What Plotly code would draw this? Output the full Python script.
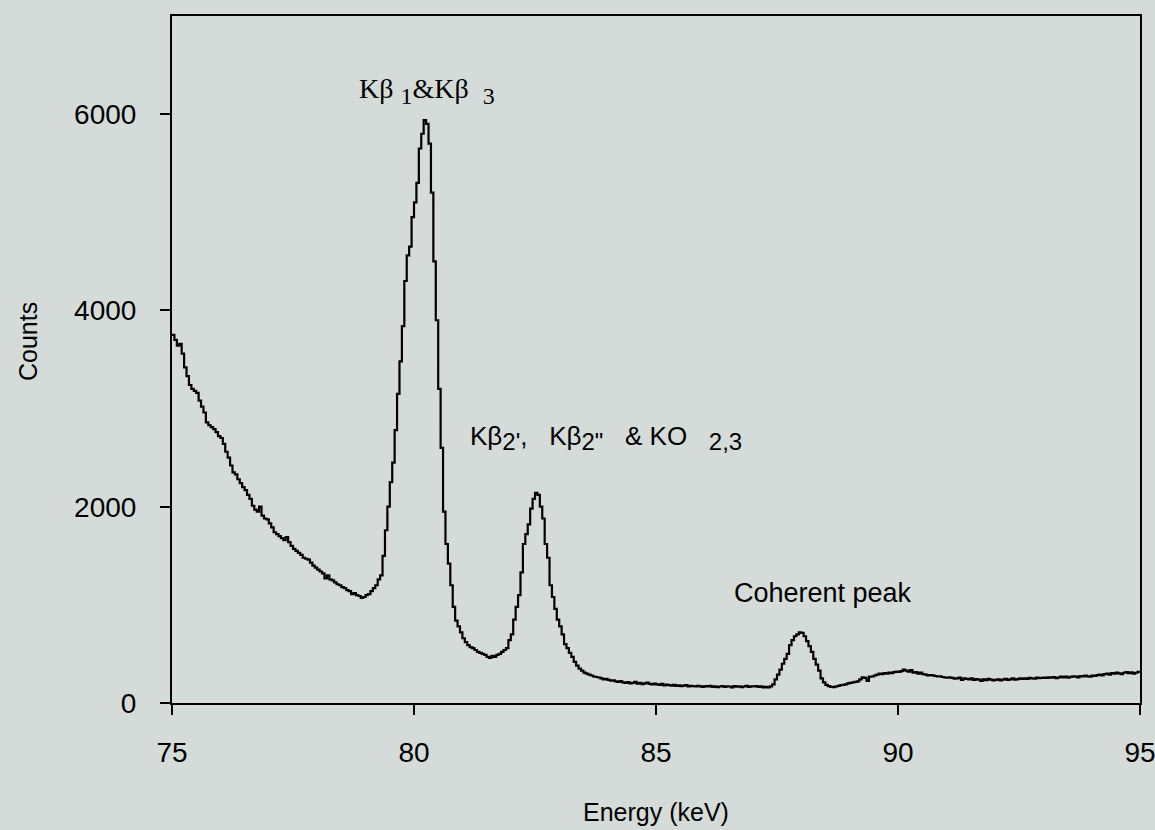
import numpy as np
import plotly.graph_objects as go

# Channel energies (keV), 0.05 keV channels from 75 to 95
energy_start = 75.0
energy_step = 0.05

counts_75 = [3750, 3700, 3640, 3660, 3560, 3420, 3330, 3240, 3200, 3180, 3160, 3080, 3020, 2960, 2860, 2830, 2810, 2790, 2760, 2720]
counts_76 = [2700, 2640, 2560, 2500, 2420, 2350, 2330, 2280, 2240, 2200, 2170, 2120, 2080, 2010, 1970, 1950, 2000, 1910, 1880, 1870]
counts_77 = [1830, 1790, 1740, 1720, 1700, 1680, 1660, 1690, 1640, 1600, 1570, 1550, 1530, 1510, 1480, 1470, 1460, 1430, 1400, 1380]
counts_78 = [1360, 1340, 1320, 1270, 1300, 1260, 1250, 1230, 1210, 1200, 1180, 1170, 1150, 1140, 1110, 1120, 1100, 1090, 1070, 1080]
counts_79 = [1100, 1110, 1140, 1170, 1200, 1260, 1300, 1500, 1760, 2000, 2250, 2450, 2780, 3150, 3480, 3840, 4300, 4560, 4650, 4950]
counts_80 = [5100, 5300, 5650, 5800, 5940, 5900, 5700, 5200, 4500, 3900, 3200, 2600, 1950, 1620, 1420, 1200, 980, 840, 780, 720]
counts_81 = [660, 620, 590, 570, 560, 540, 520, 510, 500, 490, 470, 460, 480, 470, 490, 500, 520, 540, 560, 640]
counts_82 = [700, 850, 980, 1100, 1330, 1620, 1720, 1820, 1980, 2080, 2140, 2120, 2000, 1880, 1620, 1480, 1200, 1080, 960, 850]
counts_83 = [780, 700, 600, 560, 510, 470, 420, 380, 350, 330, 310, 300, 290, 280, 270, 265, 260, 250, 240, 245]
counts_84 = [235, 228, 232, 220, 215, 222, 210, 205, 212, 200, 205, 215, 198, 205, 192, 200, 208, 195, 190, 198]
counts_85 = [190, 185, 195, 180, 188, 182, 178, 185, 175, 180, 172, 178, 183, 170, 176, 172, 168, 175, 170, 165]
counts_86 = [172, 168, 175, 165, 170, 162, 168, 172, 165, 170, 168, 160, 172, 166, 170, 162, 168, 175, 165, 170]
counts_87 = [168, 172, 165, 170, 160, 165, 158, 170, 190, 240, 290, 340, 400, 450, 500, 590, 640, 680, 700, 720]
counts_88 = [715, 680, 630, 580, 520, 450, 390, 330, 250, 210, 185, 172, 165, 162, 168, 175, 182, 185, 190, 200]
counts_89 = [205, 210, 215, 220, 240, 262, 255, 225, 268, 270, 280, 290, 300, 295, 305, 300, 310, 305, 315, 320]
counts_90 = [318, 325, 340, 330, 320, 335, 310, 315, 300, 310, 295, 290, 280, 285, 282, 275, 270, 272, 265, 260]
counts_91 = [258, 262, 255, 248, 250, 260, 235, 252, 245, 240, 250, 236, 244, 238, 225, 240, 232, 245, 238, 230]
counts_92 = [236, 242, 230, 238, 245, 235, 240, 250, 238, 244, 250, 246, 252, 245, 255, 250, 248, 258, 252, 256]
counts_93 = [260, 255, 262, 258, 265, 252, 260, 268, 262, 270, 258, 266, 272, 268, 262, 275, 270, 278, 272, 268]
counts_94 = [280, 276, 285, 290, 282, 295, 300, 290, 305, 298, 310, 302, 295, 308, 315, 305, 312, 300, 308, 318]
counts_95 = [320]

counts = (counts_75 + counts_76 + counts_77 + counts_78 + counts_79 + counts_80 + counts_81
          + counts_82 + counts_83 + counts_84 + counts_85 + counts_86 + counts_87 + counts_88
          + counts_89 + counts_90 + counts_91 + counts_92 + counts_93 + counts_94 + counts_95)
energy = energy_start + energy_step * np.arange(len(counts))

x_ticks = [75, 80, 85, 90, 95]
y_ticks = [0, 2000, 4000, 6000]

bg = "#d5dbd8"
W, H = 1155, 830
ML, MR, MT, MB = 172, 15, 16, 127

fig = go.Figure()
fig.add_trace(go.Scatter(x=energy, y=counts, mode="lines",
                         line=dict(color="black", width=2.2, shape="hv"),
                         showlegend=False, hoverinfo="x+y"))

sans = "Liberation Sans, Arial, sans-serif"
serif = "Liberation Serif, Times New Roman, serif"

axis_common = dict(showline=True, linecolor="black", linewidth=2, mirror=True,
                   showgrid=False, zeroline=False, ticks="outside", ticklen=10,
                   tickwidth=2, tickcolor="black", ticklabeloverflow="allow",
                   automargin=False,
                   tickfont=dict(family=sans, size=28, color="black"))

fig.update_layout(
    width=W, height=H,
    paper_bgcolor=bg, plot_bgcolor=bg,
    margin=dict(l=ML, r=MR, t=MT, b=MB, autoexpand=False),
    xaxis=dict(range=[75, 95], tickvals=x_ticks, ticklabelstandoff=13, **axis_common),
    yaxis=dict(range=[0, 7000], tickvals=y_ticks, ticklabelstandoff=18, **axis_common),
)

sub24 = "<sub><span style='font-size:24px'>{}</span></sub>"

fig.add_annotation(x=78.83, y=6235, xref="x", yref="y", xanchor="left", yanchor="middle",
                   text="Kβ " + sub24.format("1") + "&amp;Kβ  " + sub24.format("3"),
                   showarrow=False, font=dict(family=serif, size=28, color="black"))
fig.add_annotation(x=81.12, y=2704, xref="x", yref="y", xanchor="left", yanchor="middle",
                   text="Kβ" + sub24.format("2'") + ",   Kβ" + sub24.format("2\"")
                        + "   &amp; KO   " + sub24.format("2,3"),
                   showarrow=False, font=dict(family=sans, size=26, color="black"))
fig.add_annotation(x=86.58, y=1122, xref="x", yref="y", xanchor="left", yanchor="middle",
                   text="Coherent peak", showarrow=False,
                   font=dict(family=sans, size=27, color="black"))

plot_w = W - ML - MR
plot_h = H - MT - MB
# axis titles placed by pixel position
fig.add_annotation(x=0.5, y=(H - MB - 812) / plot_h, xref="paper", yref="paper",
                   text="Energy (keV)", showarrow=False, xanchor="center", yanchor="middle",
                   font=dict(family=sans, size=25, color="black"))
fig.add_annotation(x=(28 - ML) / plot_w, y=(H - MB - 342) / plot_h,
                   xref="paper", yref="paper", text="Counts", textangle=-90,
                   showarrow=False, xanchor="center", yanchor="middle",
                   font=dict(family=sans, size=25, color="black"))

fig.write_html("out.html", config={"displayModeBar": False},
               post_script="document.body.style.margin='0';")
